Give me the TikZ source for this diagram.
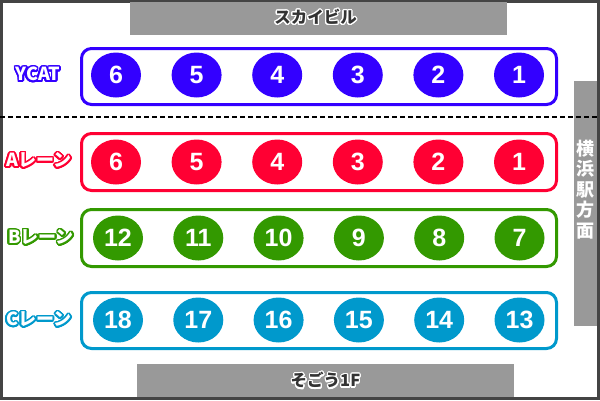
\documentclass[tikz,border=0pt]{standalone}
\usepackage{fontspec}
\usepackage{contour}
\setmainfont{Liberation Sans}
\newfontfamily\jp{Noto Sans CJK JP}
\contournumber{24}
\definecolor{cY}{HTML}{3300FF}
\definecolor{cA}{HTML}{FF0033}
\definecolor{cB}{HTML}{339900}
\definecolor{cC}{HTML}{0099CC}
\definecolor{gbox}{HTML}{999999}
\definecolor{frame}{HTML}{444444}
\definecolor{dtext}{HTML}{333333}
\usetikzlibrary{shapes.geometric}
\begin{document}
\begin{tikzpicture}[x=1pt,y=-1pt,
  lane/.style={draw=#1,line width=3pt,rounded corners=10pt},
  seat/.style={ellipse,fill=#1,minimum width=50pt,minimum height=45pt,inner sep=0pt,
    text=white,font=\fontsize{25}{25}\selectfont\bfseries},
  lanelabel/.style={inner sep=0pt,font=\jp\bfseries\fontsize{18}{18}\selectfont},
  graybox/.style={fill=gbox,draw=none,inner sep=0pt},
  graylabel/.style={inner sep=0pt,font=\jp\bfseries\fontsize{16.5}{16.5}\selectfont}]
\useasboundingbox (0,0) rectangle (600,400);
\fill[white] (0,0) rectangle (600,400);
\draw[frame,line width=3pt] (1.5,1.5) rectangle (598.5,398.5);
% gray blocks
\node[graybox,minimum width=377pt,minimum height=33pt] (sky) at (318.5,18.5) {};
\node[graylabel] (skyt) at (315.5,17.5) {\contourlength{1.2pt}\contour{white}{\textcolor{dtext}{スカイビル}}};
\node[graybox,minimum width=377pt,minimum height=33pt] (sogo) at (325.5,380.5) {};
\node[graylabel] (sogot) at (325.5,381) {\contourlength{1.2pt}\contour{white}{\textcolor{dtext}{そごう1F}}};
\node[graybox,minimum width=23pt,minimum height=245pt] (eki) at (585.5,203.5) {};
\node[inner sep=0pt,align=center,text=white,font=\jp\bfseries\fontsize{18}{20.5}\selectfont] (ekit) at (585.5,189.5) {横\\浜\\駅\\方\\面};
% dashed line
\coordinate (dl) at (0,117);
\coordinate (dr) at (600,117);
\draw[black,line width=1.5pt,dash pattern=on 5pt off 3pt] (dl) -- (dr);
% lanes
\draw[lane=cY] (81.5,48.5) rectangle (556.5,104.5);
\draw[lane=cA] (81.5,133.5) rectangle (556.5,190.5);
\draw[lane=cB] (81.5,209.5) rectangle (556.5,266.5);
\draw[lane=cC] (81.5,292.5) rectangle (556.5,348.5);
% labels
\contourlength{1.6pt}
\node[lanelabel] (ly) at (38,75) {\contour{cY}{\textcolor{white}{YCAT}}};
\node[lanelabel] (la) at (39,161) {\contour{cA}{\textcolor{white}{Aレーン}}};
\node[lanelabel] (lb) at (41,238) {\contour{cB}{\textcolor{white}{Bレーン}}};
\node[lanelabel] (lc) at (39,320) {\contour{cC}{\textcolor{white}{Cレーン}}};
% seats
\foreach \i/\n in {0/6,1/5,2/4,3/3,4/2,5/1}
  \node[seat=cY] (y\n) at ({116+80.6*\i},75) {\n};
\foreach \i/\n in {0/6,1/5,2/4,3/3,4/2,5/1}
  \node[seat=cA] (a\n) at ({116+80.6*\i},162) {\n};
\foreach \i/\n in {0/12,1/11,2/10,3/9,4/8,5/7}
  \node[seat=cB] (b\n) at ({118+80.3*\i},238) {\n};
\foreach \i/\n in {0/18,1/17,2/16,3/15,4/14,5/13}
  \node[seat=cC] (c\n) at ({118+80.3*\i},320) {\n};
\end{tikzpicture}
\end{document}
